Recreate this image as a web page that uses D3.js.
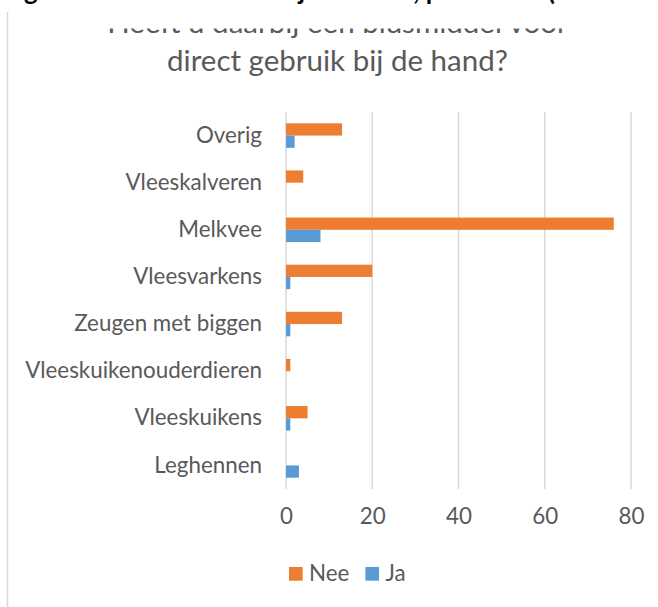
<!DOCTYPE html>
<html><head><meta charset="utf-8">
<script src="https://cdn.jsdelivr.net/npm/d3@7"></script>
<style>
body{margin:0;background:#fff;overflow:hidden}
text{font-family:Lato,'Open Sans',sans-serif}
</style>
</head><body>
<svg id="c" width="658" height="607"></svg>
<script>
// ---- data ----
const categories = ["Overig","Vleeskalveren","Melkvee","Vleesvarkens","Zeugen met biggen","Vleeskuikenouderdieren","Vleeskuikens","Leghennen"];
const seriesNames = ["Nee","Ja"];
const neeValues = [13,4,76,20,13,1,5,0];
const jaValues  = [2,0,8,1,1,0,1,3];
const xTicks = [0,20,40,60,80];
const titleLines = ["Heeft u daarbij een blusmiddel voor","direct gebruik bij de hand?"];
const captionText = "grafiek: blusmiddelen bij het werk, per sector (aantallen)";
const seriesColors = ["#ED7D31","#5B9BD5"];

const svg = d3.select("#c");
const textColor = "#595959";
const gridColor = "#D9D9D9";

const rows = categories.map((c,i)=>({cat:c, values:[neeValues[i], jaValues[i]]}));

// helper: fit font size so text gets a target width
function fitSize(str, target, weight){
  const t = svg.append("text").attr("font-size",100).attr("font-weight",weight||400).text(str);
  const w = t.node().getComputedTextLength();
  t.remove();
  return 100*target/w;
}

const labelSize = fitSize("Vleeskuikenouderdieren", 237);
const titleSize = fitSize(titleLines[1], 341);

// frame left border
svg.append("line").attr("x1",7.5).attr("x2",7.5).attr("y1",12).attr("y2",607)
  .attr("stroke",gridColor).attr("stroke-width",1.5);

// title
svg.append("text").attr("x",337.5).attr("y",33.3).attr("text-anchor","middle")
  .attr("font-size",titleSize).attr("fill",textColor).text(titleLines[0]);
svg.append("rect").attr("x",12).attr("y",0).attr("width",646).attr("height",28.5).attr("fill","#fff");
svg.append("text").attr("x",337.5).attr("y",70.5).attr("text-anchor","middle")
  .attr("font-size",titleSize).attr("fill",textColor).text(titleLines[1]);

// caption above (cut off by the page edge, as in the reference)
svg.append("text").attr("x",24).attr("y",0).attr("font-size",26).attr("font-weight",700)
  .attr("fill","#000").text(captionText);

// scales
const x = d3.scaleLinear().domain([0,80]).range([286,631]);
const y = d3.scaleBand().domain(categories).range([112,489]).paddingInner(0.48).paddingOuter(0.24);
const ySub = d3.scaleBand().domain(seriesNames).range([0,y.bandwidth()]);

// gridlines
svg.append("g").selectAll("line").data(xTicks).join("line")
  .attr("x1",d=>x(d)).attr("x2",d=>x(d)).attr("y1",112).attr("y2",489)
  .attr("stroke",gridColor).attr("stroke-width",1.5);

// bars
const g = svg.append("g").selectAll("g").data(rows).join("g")
  .attr("transform",d=>`translate(0,${y(d.cat)})`);
g.selectAll("rect").data(d=>d.values.map((v,i)=>({v,s:seriesNames[i],i}))).join("rect")
  .attr("x",x(0)).attr("y",d=>ySub(d.s)).attr("height",ySub.bandwidth())
  .attr("width",d=>x(d.v)-x(0)).attr("fill",d=>seriesColors[d.i]);

// y axis labels
const yAxis = d3.axisLeft(y).tickSize(0).tickPadding(0);
const ya = svg.append("g").attr("transform","translate(262,0)").call(yAxis);
ya.select(".domain").remove();
ya.selectAll("text").attr("font-size",labelSize).attr("fill",textColor).attr("font-family",null);

// x axis labels
const xAxis = d3.axisBottom(x).tickValues(xTicks).tickSize(0).tickPadding(0);
const xa = svg.append("g").attr("transform","translate(0,508)").call(xAxis);
xa.select(".domain").remove();
xa.selectAll("text").attr("font-size",labelSize).attr("fill",textColor).attr("font-family",null);

// legend
const leg = svg.append("g");
let lx = 289;
seriesNames.forEach((s,i)=>{
  leg.append("rect").attr("x",lx).attr("y",567).attr("width",13.7).attr("height",13.7).attr("fill",seriesColors[i]);
  const t = leg.append("text").attr("x",lx+20).attr("y",580.5).attr("font-size",labelSize).attr("fill",textColor).text(s);
  lx = lx + 20 + t.node().getComputedTextLength() + 16;
});
</script>
</body></html>
